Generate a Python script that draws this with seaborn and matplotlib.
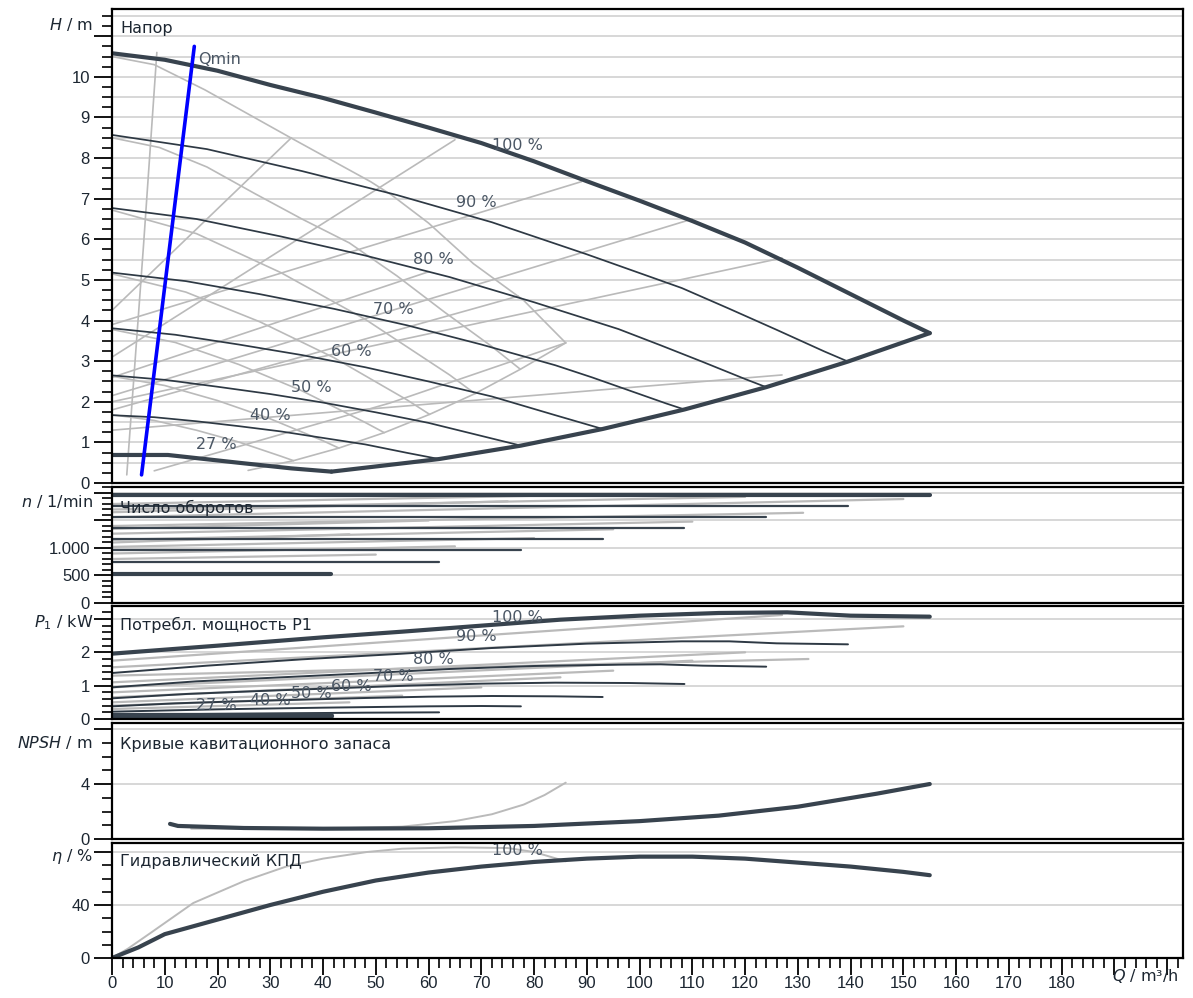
import numpy as np
import pandas as pd
import matplotlib
matplotlib.use("Agg")
import matplotlib.pyplot as plt
import matplotlib.transforms as mtransforms
from matplotlib.ticker import MultipleLocator, FixedLocator, FixedFormatter
import seaborn as sns

# ---------------- DATA ----------------
Q_MAX_AXIS = 203
x_major = list(range(0, 201, 10))
x_labels = [str(v) if v <= 180 else "" for v in x_major]

# --- Head (H / m), dark pump, speed curves ---
Q_100 = [0, 10, 20, 30, 40, 50, 60, 70, 80, 90, 100, 110, 120, 130, 140, 150, 155]
H_100 = [10.58, 10.42, 10.15, 9.8, 9.48, 9.12, 8.75, 8.37, 7.92, 7.43, 6.95, 6.45, 5.92, 5.3, 4.65, 4.0, 3.69]
Q_90 = [0, 18, 36, 54, 72, 90, 108, 117, 126, 135, 139.5]
H_90 = [8.57, 8.22, 7.68, 7.09, 6.42, 5.63, 4.8, 4.29, 3.77, 3.24, 2.99]
Q_80 = [0, 16, 32, 48, 64, 80, 96, 104, 112, 120, 124]
H_80 = [6.77, 6.5, 6.07, 5.6, 5.07, 4.45, 3.79, 3.39, 2.98, 2.56, 2.36]
Q_70 = [0, 14, 28, 42, 56, 70, 84, 91, 98, 105, 108.5]
H_70 = [5.18, 4.97, 4.65, 4.29, 3.88, 3.41, 2.9, 2.6, 2.28, 1.96, 1.81]
Q_60 = [0, 12, 24, 36, 48, 60, 72, 84, 93]
H_60 = [3.81, 3.65, 3.41, 3.15, 2.85, 2.5, 2.13, 1.67, 1.33]
Q_50 = [0, 10, 20, 30, 40, 50, 60, 70, 77.5]
H_50 = [2.65, 2.54, 2.37, 2.19, 1.98, 1.74, 1.48, 1.16, 0.92]
Q_40 = [0, 8, 16, 24, 32, 40, 48, 56, 62]
H_40 = [1.67, 1.62, 1.52, 1.4, 1.27, 1.11, 0.95, 0.74, 0.59]
Q_27 = [0, 10.6, 23.9, 34, 41.6]
H_27 = [0.69, 0.69, 0.5, 0.36, 0.28]
Q_env = [41.6, 55.5, 62, 77.5, 93, 108.5, 124, 139.5, 155]
H_env = [0.28, 0.49, 0.59, 0.92, 1.33, 1.81, 2.36, 2.99, 3.69]
Q_qmin = [5.6, 15.6]
H_qmin = [0.2, 10.75]

speed_labels = ["100 %", "90 %", "80 %", "70 %", "60 %", "50 %", "40 %", "27 %"]
lab_Q = [72.0, 65.2, 57.0, 49.4, 41.5, 33.9, 26.1, 15.9]
lab_H = [8.32, 6.9, 5.5, 4.26, 3.23, 2.34, 1.65, 0.96]

# --- Head, grey comparison pump ---
Qg_max = [0, 8, 17.6, 34, 49, 53, 60, 68.5, 78, 86]
Hg_max = [10.5, 10.3, 9.68, 8.49, 7.42, 7.09, 6.4, 5.4, 4.5, 3.45]
Qg_env = [25.8, 34.4, 43, 51.6, 60.2, 68.8, 77.4, 86]
Hg_env = [0.31, 0.55, 0.86, 1.24, 1.69, 2.2, 2.8, 3.45]
Qg_90 = [0, 9, 18, 27, 36, 45, 54, 63, 72, 77.4]
Hg_90 = [8.5, 8.26, 7.78, 7.13, 6.5, 5.91, 5.1, 4.21, 3.36, 2.8]
Qg_80 = [0, 16, 32, 48, 64, 68.8]
Hg_80 = [6.72, 6.14, 5.18, 4.03, 2.66, 2.2]
Qg_70 = [0, 14, 28, 42, 56, 60.2]
Hg_70 = [5.15, 4.7, 3.97, 3.09, 2.04, 1.69]
Qg_60 = [0, 12, 24, 36, 48, 51.6]
Hg_60 = [3.78, 3.46, 2.92, 2.27, 1.49, 1.24]
Qg_50 = [0, 10, 20, 30, 40, 43]
Hg_50 = [2.63, 2.4, 2.03, 1.58, 1.04, 0.86]
Qg_40 = [0, 8, 16, 24, 32, 34.4]
Hg_40 = [1.68, 1.54, 1.3, 1.01, 0.66, 0.55]
Qg_qmin = [2.8, 6.0, 8.5]
Hg_qmin = [0.2, 5.9, 10.6]
Qg_rise = [[0, 34], [0, 65], [0, 89], [0, 110], [0, 127], [0, 127], [8, 52.7, 86], [0, 60], [0, 77]]
Hg_rise = [[4.25, 8.5], [3.1, 8.45], [3.9, 7.42], [2.15, 6.5], [2.0, 5.54], [1.3, 2.66], [0.3, 1.97, 3.45], [2.6, 5.2], [1.8, 4.6]]

# --- Speed (n / 1/min) ---
n_speed = [1960, 1770, 1570, 1370, 1160, 960, 750, 520]
n_qend = [155, 139.5, 124, 108.5, 93, 77.5, 62, 41.6]
ng_q0 = [0, 0, 0, 0, 0, 0, 0, 0, 0, 0, 0, 0]
ng_n0 = [1560, 1400, 1260, 1150, 1020, 900, 800, 1800, 1650, 1100, 1700, 1350]
ng_q1 = [150, 131, 110, 95, 80, 65, 50, 86, 75, 45, 120, 60]
ng_n1 = [1890, 1640, 1480, 1340, 1180, 1030, 880, 1960, 1850, 1250, 1930, 1500]

# --- Power P1 / kW ---
Pq_100 = [0, 20, 40, 55, 70, 85, 100, 115, 128, 140, 155]
P_100 = [1.96, 2.2, 2.45, 2.62, 2.8, 2.98, 3.1, 3.18, 3.2, 3.1, 3.07]
Pq_90 = [0, 18, 36, 54, 72, 90, 108, 117, 126, 139.5]
P_90 = [1.38, 1.6, 1.79, 1.95, 2.13, 2.26, 2.33, 2.33, 2.27, 2.24]
Pq_80 = [0, 16, 32, 48, 64, 80, 96, 104, 112, 124]
P_80 = [0.95, 1.13, 1.25, 1.37, 1.5, 1.59, 1.63, 1.64, 1.6, 1.57]
Pq_70 = [0, 14, 28, 42, 56, 70, 84, 98, 108.5]
P_70 = [0.62, 0.75, 0.84, 0.92, 1.0, 1.06, 1.09, 1.08, 1.05]
Pq_60 = [0, 12, 24, 36, 48, 60, 72, 84, 93]
P_60 = [0.38, 0.47, 0.53, 0.58, 0.63, 0.67, 0.69, 0.68, 0.66]
Pq_50 = [0, 20, 40, 60, 70, 77.5]
P_50 = [0.22, 0.29, 0.34, 0.38, 0.39, 0.38]
Pq_40 = [0, 16, 32, 48, 62]
P_40 = [0.14, 0.15, 0.17, 0.19, 0.2]
Pq_27 = [0, 20, 41.6]
P_27 = [0.08, 0.08, 0.08]
p_lab_Q = [72.0, 65.2, 57.0, 49.4, 41.5, 33.9, 26.1, 15.9]
p_lab_P = [3.06, 2.48, 1.79, 1.27, 0.97, 0.76, 0.55, 0.42]
pg_q1 = [127, 150, 132, 120, 110, 95, 85, 70, 55, 45]
pg_p0 = [1.75, 1.55, 1.3, 1.1, 0.95, 0.8, 0.65, 0.5, 0.4, 0.3]
pg_p1 = [3.12, 2.78, 1.8, 2.0, 1.75, 1.45, 1.25, 0.95, 0.7, 0.5]

# --- NPSH / m ---
Nq = [11, 12.5, 25, 40, 60, 80, 100, 115, 130, 145, 155]
NPSH = [1.1, 0.95, 0.8, 0.75, 0.78, 0.95, 1.3, 1.7, 2.35, 3.3, 4.0]
Nq_g = [15, 40, 55, 65, 72, 78, 82, 86]
NPSH_g = [0.75, 0.75, 0.9, 1.3, 1.8, 2.5, 3.2, 4.1]

# --- Efficiency / % ---
Eq = [0, 5, 10, 20, 30, 40, 50, 60, 70, 80, 90, 100, 110, 120, 130, 140, 150, 155]
ETA = [0, 8, 18, 29, 40, 50, 58.5, 64.5, 69, 72.5, 75, 76.5, 76.5, 75, 72, 69, 65, 62.5]
Eq_g = [0, 3, 7.2, 15.4, 25, 33, 40, 48.3, 55, 65, 75, 80, 86]
ETA_g = [0, 7, 18.6, 41.5, 58, 69, 75, 80, 82.5, 83.5, 83, 80, 73]

# ---------------- STYLE ----------------
sns.set_theme(style="white")
plt.rcParams['font.family'] = ['DejaVu Sans']
plt.rcParams['mathtext.fontset'] = 'dejavusans'

FS = 11.5       # titles / labels (DejaVu Sans)
TFS = 12        # tick labels (Liberation Sans)
TICKFONT = 'Liberation Sans'
DARK = "#38434e"
THIN = "#2e3944"
GREY = "#bababa"
GRID = "#cdcdcd"
TXT = "#1c2631"
LAB = "#4a5664"

W, Hpx = 1193, 998
fig = plt.figure(figsize=(W / 100, Hpx / 100), dpi=100)
fig.patch.set_facecolor("white")

left = 112 / W
width = (1183 - 112) / W


def make_ax(top_px, bot_px):
    return fig.add_axes([left, 1 - bot_px / Hpx, width, (bot_px - top_px) / Hpx])


axH = make_ax(9, 483)
axN = make_ax(487, 603)
axP = make_ax(606, 719)
axS = make_ax(723, 839)
axE = make_ax(843, 958)


def line(ax, q, v, color, lw, z=2):
    sns.lineplot(x=q, y=v, ax=ax, color=color, linewidth=lw, sort=False,
                 estimator=None, legend=False, zorder=z)


def style(ax, ylim, major, minor, labels, grid):
    ax.set_xlim(0, Q_MAX_AXIS)
    ax.set_ylim(*ylim)
    ax.set_facecolor("white")
    for sp in ax.spines.values():
        sp.set_color("black")
        sp.set_linewidth(1.6)
        sp.set_zorder(10)
    ax.yaxis.set_major_locator(FixedLocator(major))
    ax.yaxis.set_major_formatter(FixedFormatter(labels))
    ax.yaxis.set_minor_locator(MultipleLocator(minor))
    ax.tick_params(axis='y', which='major', left=True, direction='out', length=13,
                   width=1.3, color='black', labelcolor=TXT, labelsize=TFS, pad=3)
    ax.tick_params(axis='y', which='minor', left=True, direction='out', length=7,
                   width=1.2, color='black')
    for t in ax.get_yticklabels():
        t.set_fontfamily(TICKFONT)
    ax.set_xticks(x_major)
    ax.xaxis.set_minor_locator(MultipleLocator(2))
    ax.tick_params(axis='x', which='both', bottom=False, labelbottom=False)
    for g in grid:
        ax.axhline(g, color=GRID, lw=1.1, zorder=0.5)
    ax.set_xlabel("")
    ax.set_ylabel("")


def unit_label(ax, y, text):
    tr = mtransforms.blended_transform_factory(ax.transAxes, ax.transData)
    ax.text(-19 / 1071, y, text, transform=tr, ha='right', va='center',
            fontsize=FS, color=TXT)


def title(ax, y, text):
    tr = mtransforms.blended_transform_factory(ax.transAxes, ax.transData)
    ax.text(8 / 1071, y, text, transform=tr, ha='left', va='center',
            fontsize=FS, color=TXT, zorder=6)


# ---------------- HEAD PANEL ----------------
style(axH, (0, 11.67), list(range(0, 12)), 0.25,
      [str(v) for v in range(0, 11)] + [""], list(np.arange(0.5, 11.6, 0.5)))
for q, h in [(Qg_max, Hg_max), (Qg_env, Hg_env), (Qg_90, Hg_90), (Qg_80, Hg_80),
             (Qg_70, Hg_70), (Qg_60, Hg_60), (Qg_50, Hg_50), (Qg_40, Hg_40),
             (Qg_qmin, Hg_qmin)]:
    line(axH, q, h, GREY, 1.2, 1)
for q, h in zip(Qg_rise, Hg_rise):
    line(axH, q, h, GREY, 1.2, 1)
for q, h in [(Q_90, H_90), (Q_80, H_80), (Q_70, H_70), (Q_60, H_60),
             (Q_50, H_50), (Q_40, H_40)]:
    line(axH, q, h, THIN, 1.25, 3)
for q, h in [(Q_100, H_100), (Q_27, H_27), (Q_env, H_env)]:
    line(axH, q, h, DARK, 3.0, 4)
line(axH, Q_qmin, H_qmin, "#0000ff", 2.6, 5)
axH.text(16.3, 10.42, "Qmin", fontsize=FS, color=LAB, ha='left', va='center', zorder=6)
for t, q, h in zip(speed_labels, lab_Q, lab_H):
    axH.text(q, h, t, fontsize=FS, color=LAB, ha='left', va='center', zorder=6)
unit_label(axH, 11.28, "$H$ / m")
title(axH, 11.2, "Напор")

# ---------------- SPEED PANEL ----------------
style(axN, (0, 2109), [0, 500, 1000, 1500, 2000], 100,
      ["0", "500", "1.000", "", ""], [500, 1000, 1500, 2000])
for q0, n0, q1, n1 in zip(ng_q0, ng_n0, ng_q1, ng_n1):
    line(axN, [q0, q1], [n0, n1], GREY, 1.6, 1)
for i, (n, qe) in enumerate(zip(n_speed, n_qend)):
    lw = 3.0 if i in (0, len(n_speed) - 1) else 1.6
    line(axN, [0, qe], [n, n], DARK, lw, 3)
unit_label(axN, 1840, "$n$ / 1/min")
title(axN, 1730, "Число оборотов")

# ---------------- POWER PANEL ----------------
style(axP, (0, 3.39), [0, 1, 2, 3], 0.2, ["0", "1", "2", ""], [1, 2, 3])
for p0, q1, p1 in zip(pg_p0, pg_q1, pg_p1):
    line(axP, [0, q1], [p0, p1], GREY, 1.6, 1)
for q, p in [(Pq_90, P_90), (Pq_80, P_80), (Pq_70, P_70), (Pq_60, P_60),
             (Pq_50, P_50), (Pq_40, P_40)]:
    line(axP, q, p, THIN, 1.4, 3)
line(axP, Pq_100, P_100, DARK, 3.0, 4)
line(axP, Pq_27, P_27, DARK, 4.5, 4)
for t, q, p in zip(speed_labels, p_lab_Q, p_lab_P):
    axP.text(q, p, t, fontsize=FS, color=LAB, ha='left', va='center', zorder=6)
unit_label(axP, 2.9, "$P_1$ / kW")
title(axP, 2.82, "Потребл. мощность P1")

# ---------------- NPSH PANEL ----------------
style(axS, (0, 8.44), [0, 4, 8], 1, ["0", "4", ""], [4, 8])
line(axS, Nq_g, NPSH_g, GREY, 1.4, 1)
line(axS, Nq, NPSH, DARK, 3.0, 4)
unit_label(axS, 7.05, "$NPSH$ / m")
title(axS, 6.9, "Кривые кавитационного запаса")

# ---------------- EFFICIENCY PANEL ----------------
style(axE, (0, 86.8), [0, 40, 80], 10, ["0", "40", ""], [40, 80])
line(axE, Eq_g, ETA_g, GREY, 1.4, 1)
line(axE, Eq, ETA, DARK, 3.0, 4)
axE.text(72.0, 81, "100 %", fontsize=FS, color=LAB, ha='left', va='center', zorder=6)
unit_label(axE, 76.5, "$η$ / %")
title(axE, 72.5, "Гидравлический КПД")

axE.set_xticks(x_major)
axE.set_xticklabels(x_labels)
axE.tick_params(axis='x', which='major', bottom=True, labelbottom=True, direction='out',
                length=12, width=1.3, color='black', labelcolor=TXT, labelsize=TFS, pad=1)
axE.tick_params(axis='x', which='minor', bottom=True, direction='out', length=7,
                width=1.2, color='black')
for t in axE.get_xticklabels():
    t.set_fontfamily(TICKFONT)
fig.text(1145 / W, 1 - 976 / Hpx, "$Q$ / m³/h", ha='center', va='center',
         fontsize=FS, color=TXT)

fig.savefig("out.png", dpi=100, facecolor="white")
